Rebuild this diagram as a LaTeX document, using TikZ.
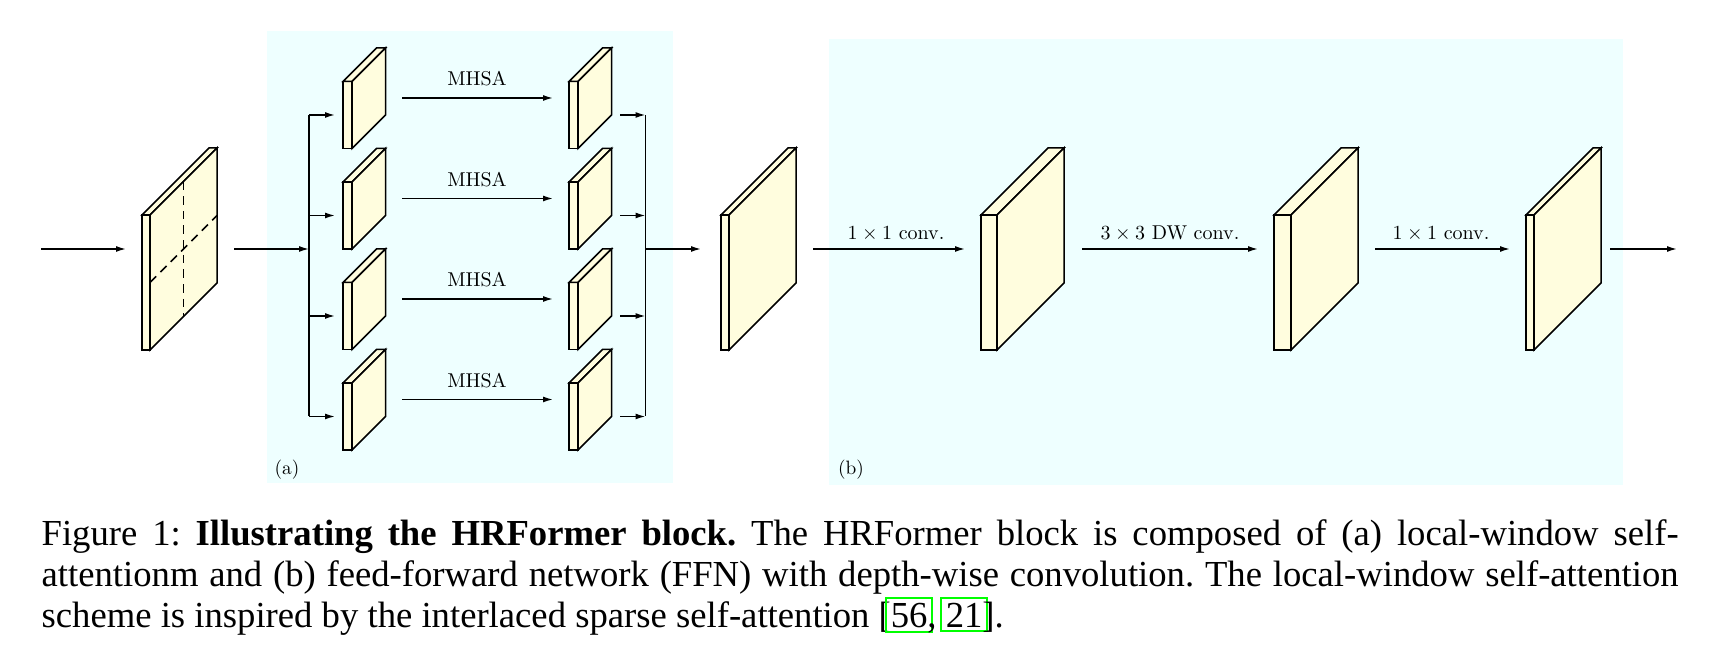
\documentclass[tikz,border=0pt]{standalone}
\usepackage{fontspec}
\newfontfamily\capfont{Liberation Serif}
\usetikzlibrary{arrows.meta}
\definecolor{slabfill}{RGB}{255,253,222}
\definecolor{panelbg}{RGB}{238,255,255}
\definecolor{lnkgreen}{RGB}{0,255,0}
\newcommand\lnk[1]{{\setlength\fboxsep{1pt}\setlength\fboxrule{0.6pt}\kern-1.6pt\textcolor{lnkgreen}{\fbox{\textcolor{black}{#1}}}\kern-1.6pt}}
\newcommand\lbl[1]{\scalebox{0.6}{#1}}
\newcommand\drawslab[5]{% x1 x2 top bottom depth
  \filldraw[slab] ({#1},{#3}) rectangle ({#2},{#4});
  \filldraw[slab] ({#1},{#3}) -- ({#1+#5},{#3-#5}) -- ({#2+#5},{#3-#5}) -- ({#2},{#3}) -- cycle;
  \filldraw[slab] ({#2},{#3}) -- ({#2+#5},{#3-#5}) -- ({#2+#5},{#4-#5}) -- ({#2},{#4}) -- cycle;
}
\tikzset{
  slab/.style={draw=black, fill=slabfill, line width=0.45pt},
  conn/.style={draw=black, line width=0.45pt},
  arr/.style={conn, -{Latex[length=3pt,width=1.8pt]}},
  panel/.style={fill=panelbg, draw=none},
  lab/.style={anchor=base, inner sep=0pt},
}
\begin{document}
\begin{tikzpicture}[x=0.3pt, y=-0.3pt]
\useasboundingbox (0,0) rectangle (1723,667);
\fill[white] (0,0) rectangle (1723,667);
% panels
\fill[panel] (267,31) rectangle (673,483);
\fill[panel] (829,39) rectangle (1623,485);
\node[inner sep=0pt] (pa) at (287,470) {\scalebox{0.58}{(a)}};
\node[inner sep=0pt] (pb) at (851,470) {\scalebox{0.58}{(b)}};
% input slab with dashed grid
\drawslab{142}{150}{215}{350}{67}
\coordinate (g1) at (183.5,181.5);
\coordinate (g2) at (183.5,316.5);
\coordinate (g3) at (150,282.5);
\coordinate (g4) at (217,215.5);
\draw[conn, dash pattern=on 2.6pt off 1.8pt] (g1) -- (g2);
\draw[conn, dash pattern=on 2.6pt off 1.8pt] (g3) -- (g4);
\coordinate (in0) at (41,249);
\coordinate (in1) at (126,249);
\draw[arr] (in0) -- (in1);
\coordinate (s1out) at (234,249);
\coordinate (split) at (309,249);
\draw[arr] (s1out) -- (split);
% branches
\foreach \i/\y in {1/115,2/215.5,3/316,4/416.5}{
  \drawslab{343}{352}{\y-33.5}{\y+33.5}{33.5}
  \drawslab{569}{578}{\y-33.5}{\y+33.5}{33.5}
  \coordinate (sp\i) at (309,\y);
  \coordinate (l\i) at (335,\y);
  \coordinate (ma\i) at (402,\y-17);
  \coordinate (mb\i) at (553,\y-17);
  \coordinate (r\i) at (620,\y);
  \coordinate (mg\i) at (645.5,\y);
  \draw[arr] (sp\i) -- (l\i);
  \draw[arr] (ma\i) -- (mb\i);
  \draw[arr] (r\i) -- (mg\i);
  \node[lab] (mhsa\i) at (477,\y-29) {\lbl{MHSA}};
}
\draw[conn] (sp1) -- (sp4);
\draw[conn] (mg1) -- (mg4);
\coordinate (merge) at (645.5,249);
\coordinate (s2in) at (701,249);
\draw[arr] (merge) -- (s2in);
% FFN part
\drawslab{721}{729}{215}{350}{67}
\drawslab{981}{997}{215}{350}{67}
\drawslab{1274}{1291}{215}{350}{67}
\drawslab{1526}{1534}{215}{350}{67}
\coordinate (s2out) at (813,249);
\coordinate (s3in) at (965,249);
\coordinate (s3out) at (1082,249);
\coordinate (s4in) at (1258,249);
\coordinate (s4out) at (1375,249);
\coordinate (s5in) at (1510,249);
\coordinate (s5out) at (1610,249);
\coordinate (outend) at (1677,249);
\draw[arr] (s2out) -- (s3in);
\draw[arr] (s3out) -- (s4in);
\draw[arr] (s4out) -- (s5in);
\draw[arr] (s5out) -- (outend);
\node[lab] (c1) at (896,240) {\lbl{$1\times 1$ conv.}};
\node[lab] (c2) at (1170,240) {\lbl{$3\times 3$ DW conv.}};
\node[lab] (c3) at (1441,240) {\lbl{$1\times 1$ conv.}};
% caption (base anchor = baseline of last line)
\node[anchor=base west, inner sep=0pt, align=left, font=\capfont\fontsize{11}{12.3}\selectfont\frenchspacing] (cap) at (41,627)
{\hbox to 491.1pt{Figure 1: \textbf{Illustrating the HRFormer block.} The HRFormer block is composed of (a) local-window self-}\\
\hbox to 491.1pt{attentionm and (b) feed-forward network (FFN) with depth-wise convolution. The local-window self-attention}\\
scheme is inspired by the interlaced sparse self-attention [\lnk{56}, \lnk{21}].};
\end{tikzpicture}
\end{document}
